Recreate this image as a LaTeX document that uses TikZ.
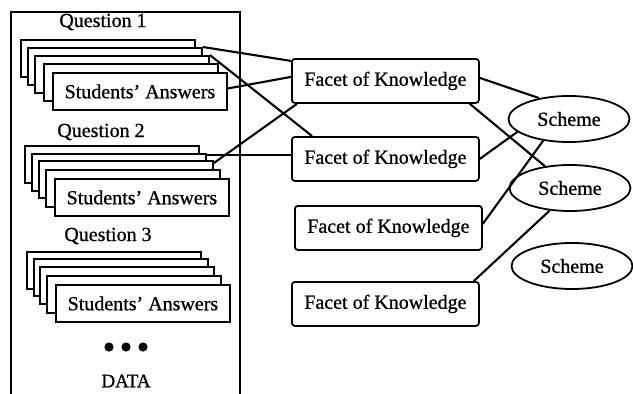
\documentclass[tikz,border=0pt]{standalone}
\usepackage{fontspec}
\setmainfont{Liberation Serif}[FakeBold=0.8]
\usetikzlibrary{shapes.geometric}
\begin{document}
\begin{tikzpicture}[x=1pt,y=-1pt,
  every node/.style={font=\fontsize{20}{24}\selectfont},
  card/.style={draw, line width=1.9pt, fill=white, anchor=north west, inner sep=0pt, minimum width=174pt, minimum height=37pt},
  facet/.style={draw, line width=1.8pt, rounded corners=3pt, anchor=north west, inner sep=0pt, minimum width=187pt, minimum height=44pt},
  scheme/.style={draw, line width=1.8pt, ellipse, inner sep=0pt, minimum width=121pt, minimum height=46pt},
  link/.style={line width=2.1pt},
  qlabel/.style={inner sep=0pt}]
\useasboundingbox (0,0) rectangle (633,394);
% data frame
\draw[line width=1.6pt] (11,396) -- (11,12) -- (240,12) -- (240,396);
% Question 1
\node[qlabel] (q1) at (103,22) {Question 1};
\node[card] (q1c1) at (20,39) {};
\node[card] (q1c2) at (27,47) {};
\node[card] (q1c3) at (34,55) {};
\node[card] (q1c4) at (43,63) {};
\node[card] (q1c5) at (52,72) {Students' Answers};
% Question 2
\node[qlabel] (q2) at (101,132) {Question 2};
\node[card] (q2c1) at (24,145) {};
\node[card] (q2c2) at (31,153) {};
\node[card] (q2c3) at (38,160) {};
\node[card] (q2c4) at (45,169) {};
\node[card] (q2c5) at (54,178) {Students' Answers};
% Question 3
\node[qlabel] (q3) at (108,236) {Question 3};
\node[card] (q3c1) at (26,251) {};
\node[card] (q3c2) at (33,258) {};
\node[card] (q3c3) at (39,266) {};
\node[card] (q3c4) at (46,275) {};
\node[card] (q3c5) at (55,284) {Students' Answers};
% dots and label
\fill (109,347) circle (4.6pt);
\fill (126,347) circle (4.6pt);
\fill (143,347) circle (4.6pt);
\node[qlabel, font=\fontsize{19}{23}\selectfont] (data) at (126,381) {DATA};
% facets
\node[facet] (f1) at (291,58) {Facet of Knowledge};
\node[facet] (f2) at (291,136) {Facet of Knowledge};
\node[facet] (f3) at (294,205) {Facet of Knowledge};
\node[facet] (f4) at (291,281) {Facet of Knowledge};
% schemes
\node[scheme] (s1) at (569,119) {Scheme};
\node[scheme] (s2) at (570,188) {Scheme};
\node[scheme] (s3) at (572,266) {Scheme};
% links data -> facets
\draw[link] (q1c2.north east) -- ([yshift=20pt]f1.west);
\draw[link] (q1c3.north east) -- ([xshift=21pt]f2.north west);
\draw[link] ([yshift=3pt]q1c5.east) -- ([yshift=4pt]f1.west);
\draw[link] ([yshift=-3pt]q2c3.north east) -- ([xshift=6pt]f1.south west);
\coordinate (q2a) at ([yshift=-2pt]q2c2.north east);
\draw[link] (q2a) -- (q2a -| f2.west);
% links facets -> schemes
\draw[link] ([yshift=3pt]f1.east) -- (s1.145);
\draw[link] ([xshift=-10pt]f1.south east) -- (s2.139);
\draw[link] (f2.east) -- (s1.194);
\draw[link] ([yshift=4pt]f3.east) -- (s1.220);
\draw[link] ([xshift=-6pt]f4.north east) -- (s2.228);
\end{tikzpicture}
\end{document}
